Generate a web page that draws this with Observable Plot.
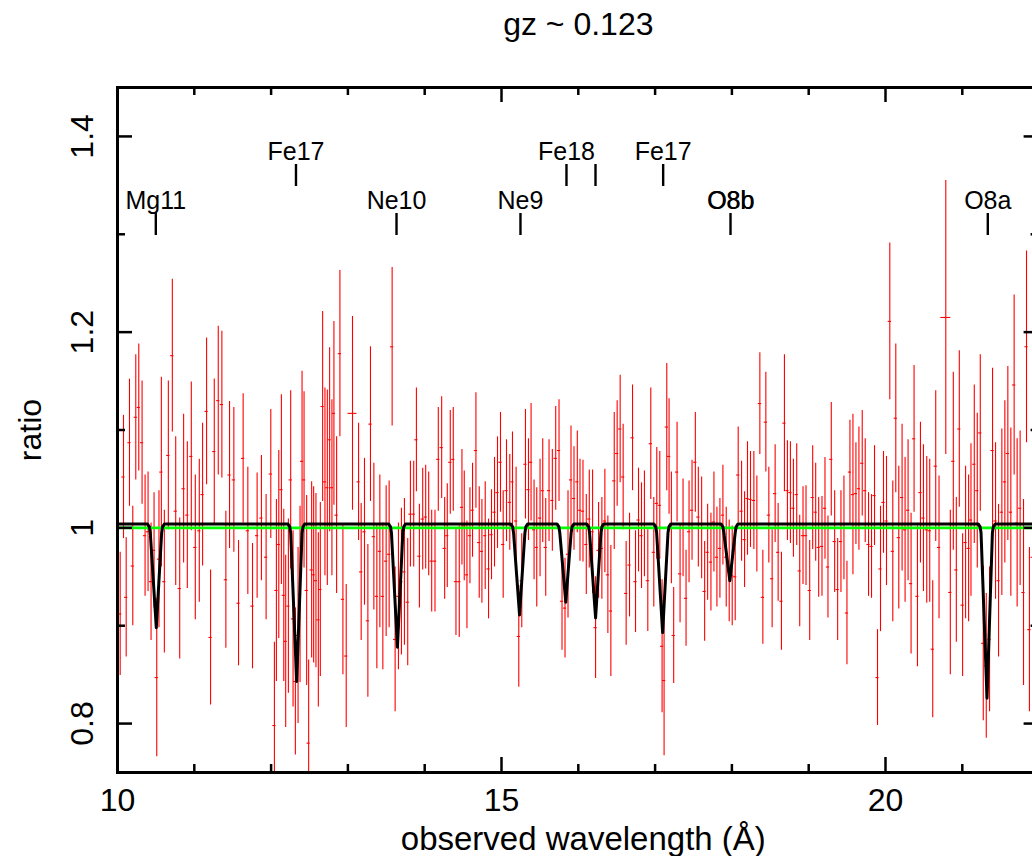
<!DOCTYPE html>
<html><head><meta charset="utf-8">
<script src="https://cdn.jsdelivr.net/npm/d3@7"></script>
<script src="https://cdn.jsdelivr.net/npm/@observablehq/plot@0.6"></script>
<style>
html,body{margin:0;padding:0;overflow:hidden;background:#fff;width:1032px;height:856px;}
#chart{position:absolute;left:0;top:0;width:1045px;}
#chart svg{max-width:none !important;}
</style>
</head><body><div id="chart"></div>
<script>
// ---------- data ----------
const title = "gz ~ 0.123";
const xLabel = "observed wavelength (Å)";
const yLabel = "ratio";

const wavelength = [
10.035,10.078,10.113,10.156,10.199,10.238,10.277,10.320,10.359,10.398,10.437,10.476,10.511,10.540,10.571,10.610,10.662,10.714,10.758,10.810,
10.861,10.909,10.961,11.013,11.065,11.108,11.160,11.212,11.260,11.312,11.359,11.411,11.459,11.515,11.576,11.636,11.697,11.758,11.818,11.874,
11.935,11.996,12.043,12.069,12.100,12.134,12.165,12.190,12.225,12.255,12.286,12.316,12.351,12.377,12.403,12.429,12.463,12.489,12.528,12.554,
12.584,12.615,12.641,12.671,12.701,12.732,12.762,12.792,12.818,12.853,12.896,12.935,12.978,13.139,13.173,13.216,13.260,13.294,13.338,13.377,
13.416,13.455,13.498,13.537,13.576,13.615,13.658,13.697,13.736,13.779,13.814,13.857,13.892,13.931,13.974,14.013,14.052,14.091,14.134,14.177,
14.221,14.260,14.294,14.333,14.372,14.407,14.450,14.485,14.515,14.550,14.589,14.623,14.667,14.710,14.745,14.788,14.831,14.870,14.909,14.948,
14.987,15.022,15.065,15.108,15.143,15.190,15.225,15.264,15.312,15.351,15.385,15.424,15.459,15.502,15.537,15.576,15.619,15.662,15.706,15.749,
15.788,15.827,15.866,15.905,15.944,15.987,16.022,16.061,16.104,16.143,16.186,16.225,16.264,16.307,16.346,16.385,16.424,16.468,16.506,16.545,
16.584,16.623,16.667,16.706,16.745,16.784,16.823,16.861,16.905,16.944,16.983,17.022,17.061,17.091,17.117,17.152,17.182,17.212,17.242,17.286,
17.325,17.364,17.403,17.442,17.481,17.524,17.563,17.606,17.645,17.684,17.727,17.766,17.805,17.844,17.883,17.926,17.965,18.004,18.043,18.082,
18.126,18.165,18.203,18.242,18.286,18.325,18.364,18.403,18.442,18.481,18.524,18.563,18.602,18.645,18.684,18.723,18.762,18.801,18.844,18.883,
18.926,18.965,19.013,19.052,19.091,19.130,19.173,19.212,19.251,19.294,19.338,19.377,19.420,19.459,19.498,19.537,19.576,19.615,19.654,19.697,
19.736,19.779,19.818,19.857,19.896,19.935,19.974,20.013,20.056,20.095,20.134,20.173,20.216,20.255,20.294,20.333,20.372,20.416,20.455,20.494,
20.537,20.576,20.615,20.654,20.697,20.844,20.883,20.922,20.961,21.004,21.043,21.082,21.113,21.156,21.195,21.234,21.273,21.312,21.355,21.394,
21.433,21.472,21.515,21.554,21.593,21.632,21.675,21.714,21.753,21.797,21.836,21.874,21.915,21.955
];
const ratio = [
0.912,1.052,0.929,1.087,0.961,1.113,1.123,1.087,0.992,0.996,0.945,0.977,0.847,0.968,1.057,0.945,1.074,1.176,1.017,0.938,
1.040,1.013,1.073,0.980,0.997,1.034,1.119,0.888,1.078,1.130,1.126,0.947,1.054,1.049,0.923,1.071,0.997,0.920,0.992,1.010,
0.970,1.055,0.798,0.936,0.983,1.039,0.931,0.884,0.920,1.049,0.907,0.843,0.890,0.932,1.068,1.049,0.936,0.780,0.957,0.952,
0.946,0.906,0.937,1.124,1.047,1.041,1.090,1.041,1.117,1.013,1.178,0.927,0.869,1.047,0.955,0.996,0.905,1.106,0.991,0.930,
0.976,0.930,0.966,0.973,1.185,0.886,0.930,0.945,0.955,0.924,1.014,1.014,1.090,0.971,1.009,1.011,1.004,0.966,0.966,1.070,
1.082,0.979,0.992,1.067,1.070,0.945,0.945,1.021,1.002,0.952,0.992,1.018,1.079,0.985,0.976,0.992,0.958,0.993,1.016,1.036,
1.067,0.983,1.038,1.026,1.047,1.007,0.889,0.946,1.065,1.039,1.067,0.998,0.980,1.010,1.038,0.980,1.038,1.028,1.071,1.079,
0.925,0.918,0.973,1.049,1.030,1.047,1.018,1.017,0.983,1.009,0.996,0.898,0.977,0.979,1.007,0.952,0.915,1.048,1.076,1.101,
1.052,0.933,0.962,1.092,0.945,1.008,0.992,1.004,0.946,1.086,0.975,1.025,1.023,0.879,0.844,1.103,1.073,1.000,0.890,1.057,
0.953,1.000,0.928,0.996,1.018,1.067,1.011,1.000,0.935,0.975,0.965,1.006,0.970,0.979,1.013,0.970,0.956,0.951,0.950,1.054,
1.017,0.988,1.030,1.029,1.028,1.004,1.127,0.929,1.108,1.013,0.948,1.035,0.975,0.925,1.107,1.038,1.036,1.020,1.034,0.956,
0.992,0.992,0.936,1.031,1.016,0.980,0.981,1.020,0.960,1.070,0.986,0.937,0.986,1.000,0.913,1.057,1.034,1.035,1.040,1.066,
1.038,0.983,0.981,1.033,0.847,0.958,1.026,1.007,1.211,0.976,1.112,0.990,1.031,0.998,1.018,0.943,1.091,0.930,1.036,1.010,
0.998,0.997,0.876,1.063,0.980,0.934,1.068,0.957,1.101,0.921,0.985,0.979,1.008,1.065,1.038,1.097,0.882,0.859,0.886,1.079,
1.007,0.946,1.016,1.047,1.076,1.016,1.146,1.005,1.020,0.934,1.185,0.896,0.970,1.030
];
const error = [
0.063,0.063,0.061,0.065,0.061,0.064,0.065,0.063,0.062,0.061,0.060,0.059,0.081,0.070,0.097,0.073,0.076,0.078,0.076,0.072,
0.076,0.075,0.076,0.074,0.073,0.073,0.075,0.069,0.074,0.076,0.075,0.070,0.075,0.074,0.064,0.066,0.065,0.064,0.064,0.064,
0.064,0.066,0.085,0.093,0.096,0.097,0.088,0.088,0.089,0.091,0.090,0.075,0.090,0.090,0.092,0.090,0.097,0.085,0.090,0.090,
0.089,0.089,0.089,0.097,0.096,0.100,0.094,0.090,0.094,0.080,0.085,0.077,0.073,0.060,0.070,0.075,0.078,0.079,0.075,0.074,
0.078,0.075,0.077,0.075,0.081,0.074,0.075,0.075,0.075,0.065,0.054,0.054,0.053,0.053,0.052,0.053,0.053,0.052,0.052,0.053,
0.052,0.052,0.053,0.053,0.053,0.055,0.057,0.059,0.056,0.055,0.049,0.048,0.059,0.057,0.053,0.055,0.051,0.046,0.056,0.057,
0.051,0.055,0.052,0.049,0.051,0.055,0.052,0.048,0.056,0.052,0.060,0.051,0.061,0.060,0.053,0.050,0.052,0.052,0.053,0.052,
0.050,0.051,0.065,0.055,0.053,0.052,0.052,0.052,0.051,0.050,0.063,0.052,0.049,0.052,0.053,0.060,0.067,0.070,0.054,0.055,
0.054,0.053,0.053,0.054,0.052,0.053,0.054,0.054,0.052,0.057,0.056,0.057,0.055,0.068,0.077,0.065,0.059,0.057,0.049,0.051,
0.050,0.050,0.049,0.052,0.051,0.051,0.051,0.052,0.051,0.049,0.050,0.051,0.051,0.051,0.051,0.051,0.052,0.051,0.045,0.049,
0.051,0.049,0.058,0.049,0.050,0.049,0.052,0.048,0.051,0.049,0.050,0.050,0.050,0.050,0.070,0.051,0.052,0.050,0.052,0.057,
0.050,0.051,0.051,0.053,0.050,0.051,0.051,0.052,0.052,0.058,0.052,0.052,0.052,0.053,0.053,0.053,0.082,0.052,0.063,0.054,
0.053,0.053,0.053,0.051,0.049,0.064,0.052,0.066,0.080,0.072,0.076,0.073,0.075,0.074,0.072,0.072,0.075,0.072,0.072,0.075,
0.075,0.073,0.070,0.077,0.073,0.084,0.091,0.074,0.080,0.073,0.078,0.075,0.078,0.081,0.079,0.080,0.079,0.074,0.074,0.084,
0.080,0.078,0.085,0.083,0.089,0.086,0.092,0.086,0.079,0.095,0.098,0.084,0.090,0.090
];
// two wide bins
const wideWavelength = [13.060, 20.785];
const wideRatio = [1.117, 1.215];
const wideError = [0.099, 0.140];
const wideHalfWidth = [0.058, 0.065];

// absorption-line model (binned)
const modelWavelength = [
10.000,10.390,10.415,10.427,10.505,10.575,10.587,10.610,
12.218,12.243,12.255,12.333,12.403,12.415,12.438,
13.530,13.555,13.567,13.645,13.715,13.727,13.750,
15.120,15.145,15.157,15.235,15.305,15.317,15.340,
15.722,15.747,15.759,15.837,15.907,15.919,15.942,
16.110,16.135,16.147,16.225,16.295,16.307,16.330,
16.983,17.008,17.020,17.098,17.168,17.180,17.203,
17.858,17.883,17.895,17.973,18.043,18.055,18.078,
21.207,21.232,21.244,21.322,21.392,21.404,21.427,22.000
];
const modelRatio = [
1.004,1.004,1.001,0.995,0.898,0.995,1.001,1.004,
1.004,1.001,0.995,0.843,0.995,1.001,1.004,
1.004,1.001,0.995,0.878,0.995,1.001,1.004,
1.004,1.001,0.995,0.911,0.995,1.001,1.004,
1.004,1.001,0.995,0.924,0.995,1.001,1.004,
1.004,1.001,0.995,0.908,0.995,1.001,1.004,
1.004,1.001,0.995,0.893,0.995,1.001,1.004,
1.004,1.001,0.995,0.946,0.995,1.001,1.004,
1.004,1.001,0.995,0.826,0.995,1.001,1.004,1.004
];
const continuumLevel = 1.0;

// line identifications
const lineNames = ["Mg11","Fe17","Ne10","Ne9","Fe18","","Fe17","O8b","O8a"];
const lineWavelengths = [10.499,12.324,13.633,15.247,15.846,16.224,17.105,17.982,21.332];
const lineRows = [1,0,1,1,0,0,0,1,1]; // 0 = upper row, 1 = lower row
const lineEmphasis = [0,0,0,0,0,0,0,1,0];

// axes
const xMajorTicks = [10, 15, 20];
const xMinorTicks = [11, 12, 13, 14, 16, 17, 18, 19, 21];
const xTickLabels = ["10", "15", "20"];
const yMajorTicks = [0.8, 1.0, 1.2, 1.4];
const yMinorTicks = [0.9, 1.1, 1.3];
const yTickLabels = ["0.8", "1", "1.2", "1.4"];

// ---------- layout ----------
const W = 1045, H = 856, mL = 117, mR = 6.4, mT = 87, mB = 84;
const xDom = [10, 22], yDom = [0.75, 1.45];
const kx = (W - mL - mR) / (xDom[1] - xDom[0]);   // px per Å
const ky = (H - mT - mB) / (yDom[1] - yDom[0]);   // px per ratio unit
const px2x = p => p / kx, px2y = p => p / ky;
const majorLen = 15, minorLen = 8, tickW = 2.5;
const font = "'Liberation Sans', Arial, Helvetica, sans-serif";
const red = "#ff0000";

const bins = wavelength.map((w, i) => ({w, r: ratio[i], e: error[i], h: 0.021}))
  .concat(wideWavelength.map((w, i) => ({w, r: wideRatio[i], e: wideError[i], h: wideHalfWidth[i]})));
const model = modelWavelength.map((w, i) => ({w, r: modelRatio[i]}));
const ids = lineWavelengths.map((w, i) => ({w, name: lineNames[i], row: lineRows[i], emph: lineEmphasis[i]}));

const clampY = v => Math.max(yDom[0], Math.min(yDom[1], v));
const markerTop = [77, 126], markerBottom = [99, 148], labelBase = [72, 121]; // px below frame top

const ticks = [];
function xTicks(list, len) {
  ticks.push(Plot.ruleX(list, {x: d => d, y1: yDom[0], y2: yDom[0] + px2y(len), stroke: "black", strokeWidth: tickW}));
  ticks.push(Plot.ruleX(list, {x: d => d, y1: yDom[1], y2: yDom[1] - px2y(len), stroke: "black", strokeWidth: tickW}));
}
function yTicks(list, len) {
  ticks.push(Plot.ruleY(list, {y: d => d, x1: xDom[0], x2: xDom[0] + px2x(len), stroke: "black", strokeWidth: tickW}));
  ticks.push(Plot.ruleY(list, {y: d => d, x1: xDom[1], x2: xDom[1] - px2x(len), stroke: "black", strokeWidth: tickW}));
}
xTicks(xMajorTicks, majorLen); xTicks(xMinorTicks, minorLen);
yTicks(yMajorTicks, majorLen); yTicks(yMinorTicks, minorLen);

const chart = Plot.plot({
  width: W, height: H,
  marginLeft: mL, marginRight: mR, marginTop: mT, marginBottom: mB,
  x: {domain: xDom, axis: null},
  y: {domain: yDom, axis: null},
  style: {fontFamily: font, background: "white", color: "black", overflow: "visible", maxWidth: "none"},
  marks: [
    // data error bars
    Plot.ruleX(bins, {x: "w", y1: d => clampY(d.r - d.e), y2: d => clampY(d.r + d.e), stroke: red, strokeWidth: 1.1, clip: true}),
    Plot.ruleY(bins, {y: "r", x1: d => d.w - d.h, x2: d => d.w + d.h, stroke: red, strokeWidth: 1.1, clip: true}),
    // continuum
    Plot.ruleY([continuumLevel], {stroke: "#00ff00", strokeWidth: 2.6}),
    // model
    Plot.line(model, {x: "w", y: "r", stroke: "black", strokeWidth: 3, strokeLinejoin: "round", clip: true}),
    // line identifications
    Plot.ruleX(ids, {x: "w", y1: d => yDom[1] - px2y(markerTop[d.row]), y2: d => yDom[1] - px2y(markerBottom[d.row]), stroke: "black", strokeWidth: 2.4}),
    Plot.text(ids.filter(d => d.name), {x: "w", y: d => yDom[1] - px2y(labelBase[d.row]), text: "name", lineAnchor: "bottom", fontSize: 25, fill: "black"}),
    Plot.text(ids.filter(d => d.name && d.emph), {x: "w", y: d => yDom[1] - px2y(labelBase[d.row]), text: "name", lineAnchor: "bottom", fontSize: 25, fill: "black", dx: 0.5}),
    // frame & ticks
    Plot.frame({stroke: "black", strokeWidth: 3}),
    ...ticks,
    // tick labels
    Plot.text(xMajorTicks, {x: d => d, frameAnchor: "bottom", dy: 38, lineAnchor: "bottom", textAnchor: "middle", text: (d, i) => xTickLabels[i], fontSize: 32, fill: "black"}),
    Plot.text(yMajorTicks, {y: d => d, frameAnchor: "left", dx: -25, rotate: -90, lineAnchor: "bottom", textAnchor: "middle", text: (d, i) => yTickLabels[i], fontSize: 32, fill: "black"}),
    // axis titles
    Plot.text([xLabel], {frameAnchor: "bottom", dy: 77, dx: 5, lineAnchor: "bottom", textAnchor: "middle", text: d => d, fontSize: 33, fill: "black"}),
    Plot.text([yLabel], {frameAnchor: "left", dx: -77, rotate: -90, lineAnchor: "bottom", textAnchor: "middle", text: d => d, fontSize: 32, fill: "black"}),
    // title
    Plot.text([title], {frameAnchor: "top", dy: -53, lineAnchor: "bottom", textAnchor: "middle", text: d => d, fontSize: 32, fill: "black"})
  ]
});
chart.style.maxWidth = "none";
chart.setAttribute("width", W);
chart.setAttribute("height", H);
document.getElementById("chart").appendChild(chart);
</script>
</body></html>
